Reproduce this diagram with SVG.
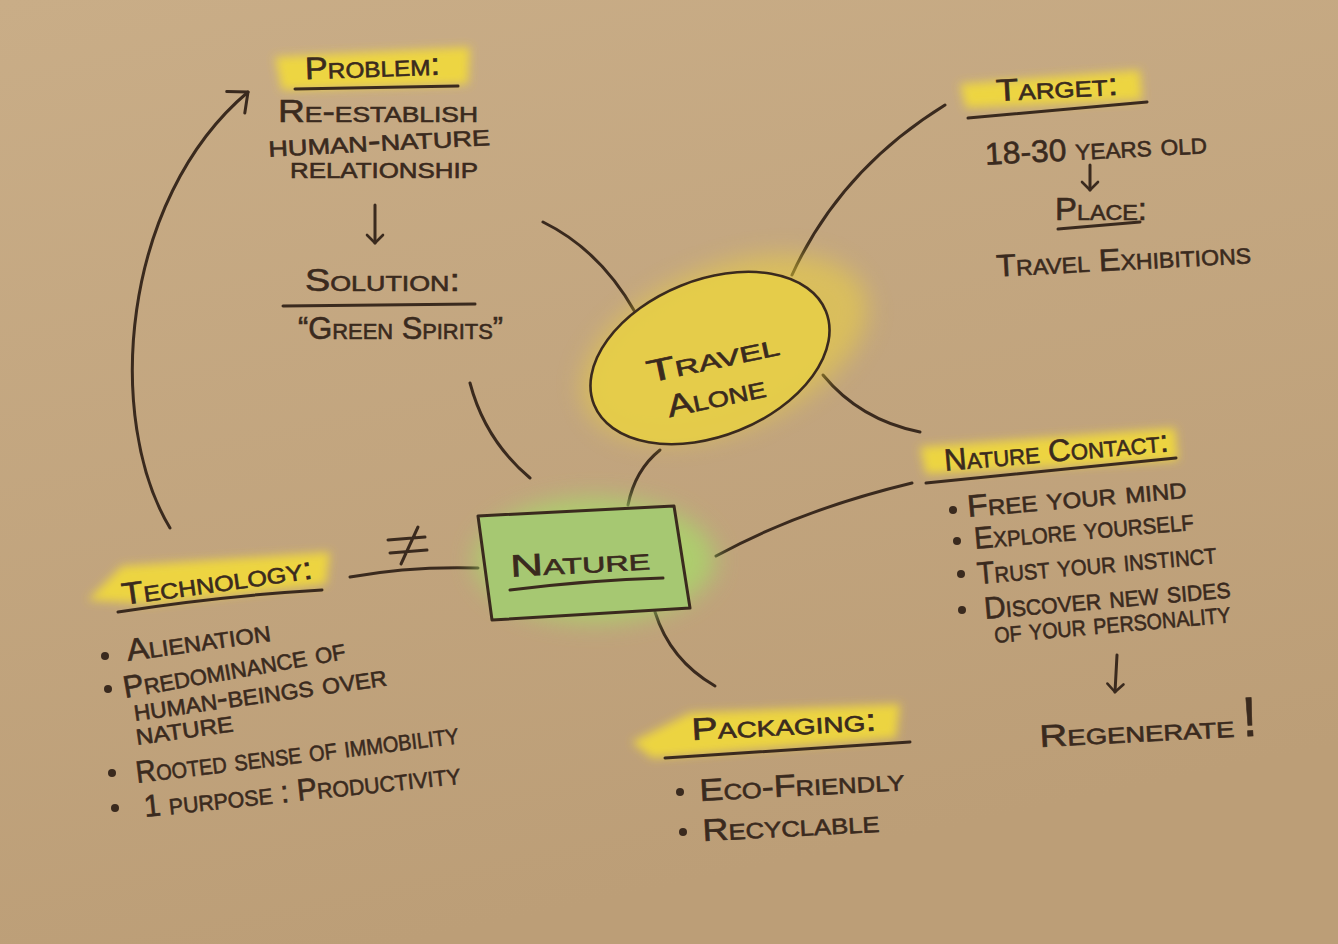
<svg xmlns="http://www.w3.org/2000/svg" width="1338" height="944" viewBox="0 0 1338 944">
<defs>
<linearGradient id="paper" x1="0" y1="0" x2="0.3" y2="1">
<stop offset="0" stop-color="#c9ad87"/>
<stop offset="1" stop-color="#bc9e77"/>
</linearGradient>
<filter id="soft" x="-20%" y="-50%" width="140%" height="200%"><feGaussianBlur stdDeviation="5"/></filter>
<filter id="softer" x="-30%" y="-50%" width="160%" height="200%"><feGaussianBlur stdDeviation="12"/></filter>
<marker id="chev" viewBox="0 0 20 20" refX="10" refY="10" markerWidth="20" markerHeight="20" markerUnits="userSpaceOnUse" orient="auto">
<path d="M2,2 L10,10 L2,18" fill="none" stroke="#3a2a1e" stroke-width="2.6" stroke-linecap="round" stroke-linejoin="round"/>
</marker>
<marker id="bigchev" viewBox="0 0 40 40" refX="20" refY="20" markerWidth="40" markerHeight="40" markerUnits="userSpaceOnUse" orient="auto">
<path d="M4,6 L20,20 L4,34" fill="none" stroke="#3a2a1e" stroke-width="3" stroke-linecap="round" stroke-linejoin="round"/>
</marker>
</defs>
<style>
.t{font-family:"Liberation Sans","DejaVu Sans",sans-serif;font-variant:small-caps;fill:#3a2a1e;stroke:#3a2a1e;stroke-width:0.6;font-size:31px;}
.ln{fill:none;stroke:#3a2a1e;stroke-width:3;stroke-linecap:round;}
.hl{fill:#f2da3a;opacity:0.9;}
.dot{fill:#3a2a1e;}
</style>
<rect width="1338" height="944" fill="url(#paper)"/>

<g id="connectors">
<path class="ln" d="M543,222 Q600,250 635,312"/>
<path class="ln" d="M470,383 Q485,440 530,478"/>
<path class="ln" d="M660,450 Q635,470 628,505"/>
<path class="ln" d="M792,275 Q840,170 945,105"/>
<path class="ln" d="M823,375 Q860,420 920,432"/>
<path class="ln" d="M716,556 Q800,510 912,483"/>
<path class="ln" d="M478,568 Q410,566 350,577"/>
<path class="ln" d="M655,612 Q670,660 715,686"/>
<path class="ln" d="M170,528 C105,420 120,200 248,92" marker-end="url(#bigchev)"/>
<g id="neq">
<path class="ln" d="M388,540 L425,537 M390,553 L427,550 M418,527 L401,564"/>
</g>
</g>

<g id="problem">
<polygon class="hl" filter="url(#soft)" points="275,57 470,47 468,84 282,90"/>
<text class="t" x="305" y="77" textLength="135" lengthAdjust="spacingAndGlyphs" transform="rotate(-2 372 70)">Problem:</text>
<path class="ln" d="M295,89 L458,86"/>
<text class="t" x="278" y="122" textLength="200" lengthAdjust="spacingAndGlyphs">Re-establish</text>
<text class="t" x="268" y="151" textLength="222" lengthAdjust="spacingAndGlyphs" transform="rotate(-3 378 140)">human-nature</text>
<text class="t" x="290" y="178" textLength="188" lengthAdjust="spacingAndGlyphs">relationship</text>
<path class="ln" d="M375,205 L375,243" stroke-width="2.6" marker-end="url(#chev)"/>
</g>

<g id="solution">
<text class="t" x="305" y="291" textLength="155" lengthAdjust="spacingAndGlyphs">Solution:</text>
<path class="ln" d="M283,306 L475,304"/>
<text class="t" x="298" y="339" textLength="205" lengthAdjust="spacingAndGlyphs">“Green Spirits”</text>
</g>

<g id="target">
<polygon class="hl" filter="url(#soft)" points="960,84 1140,70 1142,100 966,108"/>
<text class="t" x="996" y="98" textLength="122" lengthAdjust="spacingAndGlyphs" transform="rotate(-3 1057 90)">Target:</text>
<path class="ln" d="M968,118 L1147,102"/>
<text class="t" x="985" y="159" textLength="222" lengthAdjust="spacingAndGlyphs" transform="rotate(-3 1095 150)">18-30 years old</text>
<path class="ln" d="M1090,165 L1090,190" stroke-width="2.6" marker-end="url(#chev)"/>
<text class="t" x="1055" y="220" textLength="92" lengthAdjust="spacingAndGlyphs">Place:</text>
<path class="ln" d="M1058,229 L1140,222"/>
<text class="t" x="996" y="270" textLength="255" lengthAdjust="spacingAndGlyphs" transform="rotate(-3 1122 260)">Travel Exhibitions</text>
</g>

<g id="travel-alone">
<ellipse cx="725" cy="348" rx="150" ry="80" fill="#f0d63a" opacity="0.5" filter="url(#softer)" transform="rotate(-22 725 348)"/>
<ellipse cx="710" cy="358" rx="125" ry="78" fill="#e6cd48" fill-opacity="0.9" stroke="#3a2a1e" stroke-width="2.6" transform="rotate(-22 710 358)"/>
<text class="t" x="712" y="369" text-anchor="middle" font-size="40" textLength="135" lengthAdjust="spacingAndGlyphs" transform="rotate(-12 712 355)">Travel</text>
<text class="t" x="716" y="407" text-anchor="middle" font-size="40" textLength="100" lengthAdjust="spacingAndGlyphs" transform="rotate(-12 716 395)">Alone</text>
</g>

<g id="nature">
<ellipse cx="595" cy="560" rx="120" ry="62" fill="#a9d86a" opacity="0.8" filter="url(#softer)"/>
<polygon points="478,516 674,506 690,608 492,620" fill="#a6c872" stroke="#3a2a1e" stroke-width="3" stroke-linejoin="round"/>
<text class="t" x="580" y="573" text-anchor="middle" font-size="40" textLength="140" lengthAdjust="spacingAndGlyphs" transform="rotate(-3 580 560)">Nature</text>
<path class="ln" d="M510,590 Q590,580 663,578"/>
</g>

<g id="technology">
<polygon class="hl" filter="url(#soft)" points="88,600 122,566 330,552 326,584 150,604"/>
<text class="t" x="120" y="592" textLength="192" lengthAdjust="spacingAndGlyphs" transform="rotate(-8 215 575)">Technology:</text>
<path class="ln" d="M118,612 Q220,596 322,590"/>
<circle class="dot" cx="105" cy="656" r="4"/>
<text class="t" x="128" y="661" textLength="145" lengthAdjust="spacingAndGlyphs" transform="rotate(-8 128 661)">Alienation</text>
<circle class="dot" cx="108" cy="689" r="4"/>
<text class="t" x="125" y="698" textLength="225" lengthAdjust="spacingAndGlyphs" transform="rotate(-10 125 698)">Predominance of</text>
<text class="t" x="135" y="721" textLength="255" lengthAdjust="spacingAndGlyphs" transform="rotate(-8 135 721)">human-beings over</text>
<text class="t" x="137" y="745" textLength="98" lengthAdjust="spacingAndGlyphs" transform="rotate(-8 137 745)">nature</text>
<circle class="dot" cx="112" cy="773" r="4"/>
<text class="t" x="137" y="783" textLength="325" lengthAdjust="spacingAndGlyphs" transform="rotate(-7 137 783)">Rooted sense of immobility</text>
<circle class="dot" cx="115" cy="808" r="4"/>
<text class="t" x="145" y="817" textLength="318" lengthAdjust="spacingAndGlyphs" transform="rotate(-6 145 817)">1 purpose : Productivity</text>
</g>

<g id="nature-contact">
<polygon class="hl" filter="url(#soft)" points="920,447 1175,428 1178,460 926,474"/>
<text class="t" x="945" y="471" textLength="225" lengthAdjust="spacingAndGlyphs" transform="rotate(-5 945 471)">Nature Contact:</text>
<path class="ln" d="M926,483 L1176,458"/>
<circle class="dot" cx="953" cy="510" r="4"/>
<text class="t" x="968" y="517" textLength="220" lengthAdjust="spacingAndGlyphs" transform="rotate(-5 968 517)">Free your mind</text>
<circle class="dot" cx="957" cy="541" r="4"/>
<text class="t" x="975" y="549" textLength="220" lengthAdjust="spacingAndGlyphs" transform="rotate(-5 975 549)">Explore yourself</text>
<circle class="dot" cx="961" cy="574" r="4"/>
<text class="t" x="978" y="584" textLength="240" lengthAdjust="spacingAndGlyphs" transform="rotate(-5 978 584)">Trust your instinct</text>
<circle class="dot" cx="962" cy="610" r="4"/>
<text class="t" x="985" y="619" textLength="247" lengthAdjust="spacingAndGlyphs" transform="rotate(-5 985 619)">Discover new sides</text>
<text class="t" x="995" y="643" textLength="237" lengthAdjust="spacingAndGlyphs" transform="rotate(-5 995 643)">of your personality</text>
<path class="ln" d="M1117,655 L1115,692" stroke-width="2.6" marker-end="url(#chev)"/>
<text class="t" x="1040" y="747" transform="rotate(-3 1040 747)"><tspan textLength="195" lengthAdjust="spacingAndGlyphs">Regenerate</tspan><tspan font-size="56" dx="8">!</tspan></text>
</g>

<g id="packaging">
<polygon class="hl" filter="url(#soft)" points="632,742 690,713 900,704 896,738 652,758"/>
<text class="t" x="692" y="740" textLength="185" lengthAdjust="spacingAndGlyphs" transform="rotate(-3 692 740)">Packaging:</text>
<path class="ln" d="M665,758 L910,742"/>
<circle class="dot" cx="680" cy="792" r="4"/>
<text class="t" x="700" y="801" textLength="205" lengthAdjust="spacingAndGlyphs" transform="rotate(-3 700 801)">Eco-Friendly</text>
<circle class="dot" cx="683" cy="832" r="4"/>
<text class="t" x="703" y="841" textLength="177" lengthAdjust="spacingAndGlyphs" transform="rotate(-3 703 841)">Recyclable</text>
</g>
</svg>
